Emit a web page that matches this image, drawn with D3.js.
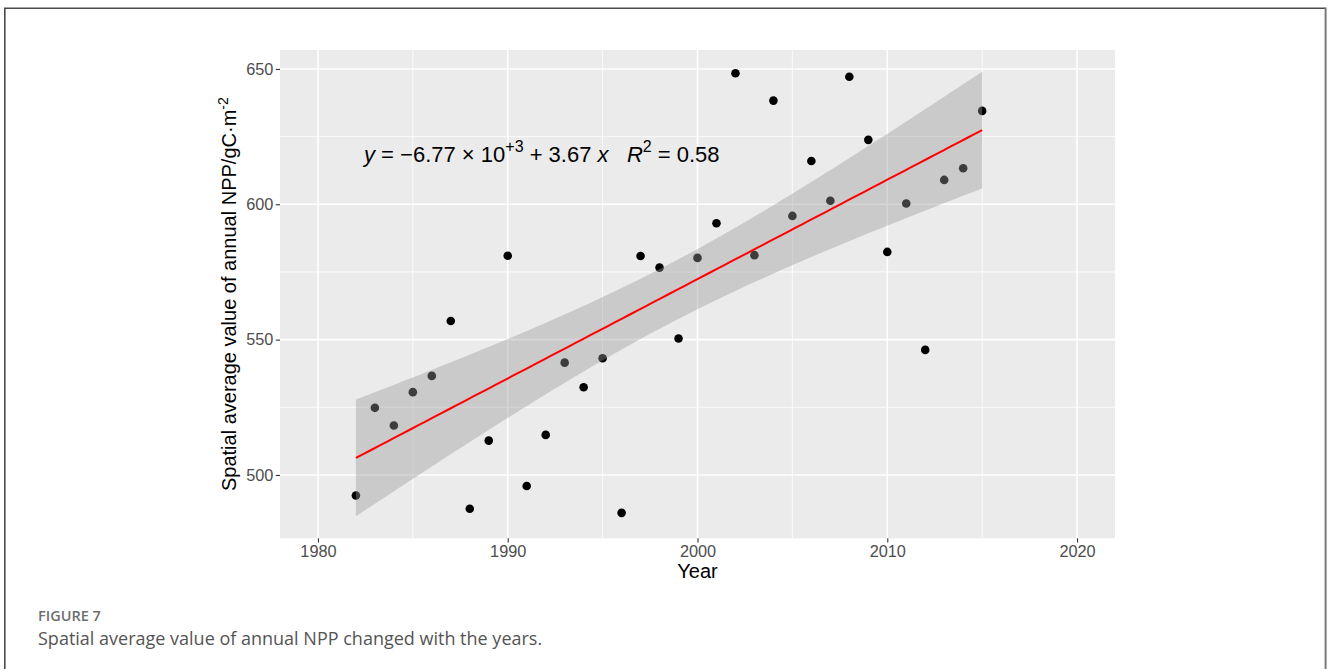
<!DOCTYPE html>
<html>
<head>
<meta charset="utf-8">
<script src="https://cdn.jsdelivr.net/npm/d3@7"></script>
<style>
  html, body { margin: 0; padding: 0; background: #fff; }
  svg { display: block; }
</style>
</head>
<body>
<svg id="fig" width="1328" height="669"></svg>
<script>
// Annual spatial-average NPP (gC·m⁻²), 1982–2015
const years = [1982, 1983, 1984, 1985, 1986, 1987, 1988, 1989, 1990, 1991,
               1992, 1993, 1994, 1995, 1996, 1997, 1998, 1999, 2000, 2001,
               2002, 2003, 2004, 2005, 2006, 2007, 2008, 2009, 2010, 2011,
               2012, 2013, 2014, 2015];
const npp = [492.4, 524.8, 518.3, 530.6, 536.6, 556.9, 487.5, 512.7, 581.0, 495.9,
             514.8, 541.5, 532.4, 543.1, 486.0, 580.9, 576.6, 550.4, 580.2, 593.0,
             648.4, 581.2, 638.3, 595.7, 616.0, 601.3, 647.1, 623.8, 582.4, 600.3,
             546.2, 609.0, 613.3, 634.5];

const xTicks = [1980, 1990, 2000, 2010, 2020];
const xMinor = [1985, 1995, 2005, 2015];
const yTicks = [500, 550, 600, 650];
const yMinor = [525, 575, 625];

const xTitle = "Year";
const yTitle = "Spatial average value of annual NPP/gC·m";
const yTitleSup = "-2";
const figureLabel = "FIGURE 7";
const captionText = "Spatial average value of annual NPP changed with the years.";

const svg = d3.select("#fig");
const W = 1328, H = 669;
const panel = { left: 280, top: 50, right: 1115, bottom: 538.3 };

const x = d3.scaleLinear().domain([1978, 2022]).range([panel.left, panel.right]);
const y = d3.scaleLinear().domain([476.6, 657]).range([panel.bottom, panel.top]);

// ---- figure frame ----
svg.append("path")
  .attr("d", `M4.8,${H} V8.3 H1325.5`)
  .attr("fill", "none").attr("stroke", "#4a4a4a").attr("stroke-width", 1.6);
svg.append("line")
  .attr("x1", 1325.6).attr("x2", 1325.6).attr("y1", 7.5).attr("y2", H)
  .attr("stroke", "#7a7a7a").attr("stroke-width", 2);

// ---- panel background and grid ----
svg.append("rect")
  .attr("x", panel.left).attr("y", panel.top)
  .attr("width", panel.right - panel.left).attr("height", panel.bottom - panel.top)
  .attr("fill", "#EBEBEB");

const grid = svg.append("g").attr("stroke", "#ffffff").attr("fill", "none");
grid.selectAll(".xminor").data(xMinor).join("line")
  .attr("x1", d => x(d)).attr("x2", d => x(d))
  .attr("y1", panel.top).attr("y2", panel.bottom).attr("stroke-width", 0.8);
grid.selectAll(".yminor").data(yMinor).join("line")
  .attr("y1", d => y(d)).attr("y2", d => y(d))
  .attr("x1", panel.left).attr("x2", panel.right).attr("stroke-width", 0.8);
grid.selectAll(".xmajor").data(xTicks).join("line")
  .attr("x1", d => x(d)).attr("x2", d => x(d))
  .attr("y1", panel.top).attr("y2", panel.bottom).attr("stroke-width", 1.6);
grid.selectAll(".ymajor").data(yTicks).join("line")
  .attr("y1", d => y(d)).attr("y2", d => y(d))
  .attr("x1", panel.left).attr("x2", panel.right).attr("stroke-width", 1.6);

// ---- ordinary least squares fit with 95% confidence band ----
const pts = years.map((yr, i) => ({ year: yr, value: npp[i] }));
const n = pts.length;
const mx = d3.mean(years), my = d3.mean(npp);
const sxx = d3.sum(years, v => (v - mx) ** 2);
const syy = d3.sum(npp, v => (v - my) ** 2);
const sxy = d3.sum(pts, p => (p.year - mx) * (p.value - my));
const slope = sxy / sxx;
const intercept = my - slope * mx;
const r2 = (sxy * sxy) / (sxx * syy);
const sse = d3.sum(pts, p => (p.value - (intercept + slope * p.year)) ** 2);
const sigma = Math.sqrt(sse / (n - 2));
const tCrit = 2.0369; // two-sided 95% Student t quantile, 32 degrees of freedom

const [x0, x1] = d3.extent(years);
const band = d3.range(0, 81).map(i => {
  const xv = x0 + (x1 - x0) * i / 80;
  const fit = intercept + slope * xv;
  const half = tCrit * sigma * Math.sqrt(1 / n + (xv - mx) ** 2 / sxx);
  return { xv, fit, lo: fit - half, hi: fit + half };
});

// ---- points (drawn beneath the band, as in geom_point + geom_smooth) ----
svg.append("g").selectAll("circle").data(pts).join("circle")
  .attr("cx", d => x(d.year)).attr("cy", d => y(d.value))
  .attr("r", 4.3).attr("fill", "#000");

svg.append("path").datum(band)
  .attr("d", d3.area().x(d => x(d.xv)).y0(d => y(d.lo)).y1(d => y(d.hi)))
  .attr("fill", "#999999").attr("fill-opacity", 0.4);

svg.append("path").datum(band)
  .attr("d", d3.line().x(d => x(d.xv)).y(d => y(d.fit)))
  .attr("fill", "none").attr("stroke", "#FF0000").attr("stroke-width", 2);

// ---- axes ----
const tickFont = '"Liberation Sans", Arial, sans-serif';
const xAxis = svg.append("g")
  .attr("transform", `translate(0,${panel.bottom})`)
  .call(d3.axisBottom(x).tickValues(xTicks).tickFormat(d3.format("d")).tickSize(4.2).tickPadding(2.5));
const yAxis = svg.append("g")
  .attr("transform", `translate(${panel.left},0)`)
  .call(d3.axisLeft(y).tickValues(yTicks).tickFormat(d3.format("d")).tickSize(4.2).tickPadding(2.5));
[xAxis, yAxis].forEach(g => {
  g.select(".domain").remove();
  g.selectAll(".tick line").attr("stroke", "#333333").attr("stroke-width", 1.1);
  g.selectAll(".tick text")
    .attr("fill", "#4D4D4D")
    .style("font-family", tickFont).style("font-size", "16.3px");
});

svg.append("text")
  .attr("x", (panel.left + panel.right) / 2).attr("y", 578)
  .attr("text-anchor", "middle")
  .style("font-family", tickFont).style("font-size", "20px").attr("fill", "#000")
  .text(xTitle);

const yt = svg.append("text")
  .attr("transform", `translate(236,${(panel.top + panel.bottom) / 2}) rotate(-90)`)
  .attr("text-anchor", "middle")
  .style("font-family", tickFont).style("font-size", "20px").attr("fill", "#000");
yt.append("tspan").text(yTitle);
yt.append("tspan").attr("dy", -8).style("font-size", "14px").text(yTitleSup);

// ---- regression equation ----
const expo = Math.floor(Math.log10(Math.abs(intercept)));
const mant = intercept / 10 ** expo;
const fmtSign = v => (v < 0 ? "\u2212" : "");
const eq = svg.append("text")
  .attr("x", 364).attr("y", 162)
  .style("font-family", tickFont).style("font-size", "22px")
  .style("white-space", "pre").attr("fill", "#000");
eq.append("tspan").style("font-style", "italic").text("y");
eq.append("tspan").text(` = ${fmtSign(mant)}${Math.abs(mant).toFixed(2)} \u00D7 10`);
eq.append("tspan").attr("dy", -10).style("font-size", "16px").text((expo >= 0 ? "+" : "") + expo);
eq.append("tspan").attr("dy", 10).text(` ${slope < 0 ? "\u2212" : "+"} ${Math.abs(slope).toFixed(2)} `);
eq.append("tspan").style("font-style", "italic").text("x");
eq.append("tspan").text("   ");
eq.append("tspan").style("font-style", "italic").text("R");
eq.append("tspan").attr("dy", -10).style("font-size", "16px").text("2");
eq.append("tspan").attr("dy", 10).text(` = ${r2.toFixed(2)}`);

// ---- figure caption ----
svg.append("text")
  .attr("x", 38).attr("y", 621)
  .style("font-family", '"Open Sans", sans-serif').style("font-size", "14.5px")
  .style("font-weight", 600).attr("fill", "#6e6e6e")
  .text(figureLabel);
svg.append("text")
  .attr("x", 38).attr("y", 645)
  .style("font-family", '"Open Sans", sans-serif').style("font-size", "18px")
  .attr("fill", "#555555")
  .text(captionText);
</script>
</body>
</html>
